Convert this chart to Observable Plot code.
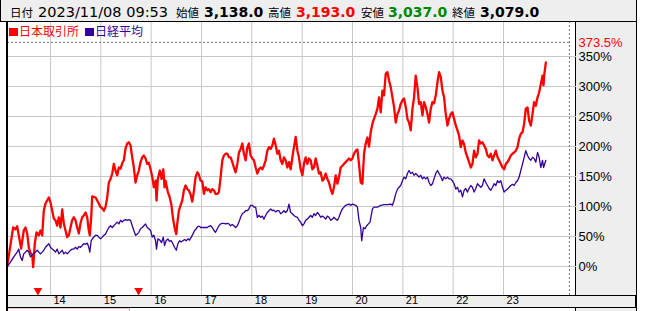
<!DOCTYPE html>
<html>
<head>
<meta charset="utf-8">
<script src="https://cdn.jsdelivr.net/npm/d3@7"></script>
<script src="https://cdn.jsdelivr.net/npm/@observablehq/plot@0.6"></script>
<style>
  html, body { margin: 0; padding: 0; background: #fff; }
  #wrap { position: relative; width: 660px; height: 311px; overflow: hidden; background: #fff; }
  .abs { position: absolute; }
</style>
</head>
<body>
<div id="wrap">
  <div class="abs" style="left:575px;top:21px;width:60px;height:300px;background:#eee;border-left:1px solid #000;border-right:1px solid #000;z-index:0"></div>
  <div class="abs" style="left:7px;top:295px;width:628px;height:11px;background:#eee;border-top:1px solid #000;border-bottom:1px solid #000;border-right:1px solid #000;z-index:0"></div>
  <div class="abs" style="left:6px;top:21px;width:2px;height:300px;background:#000;z-index:2"></div>
  <div class="abs" style="left:8px;top:308px;width:121px;height:10px;border-right:1px solid #aaa;border-top:1px solid #f6c4c4;z-index:0"></div>
  <div class="abs" style="left:0px;top:-1px;width:635px;height:21px;background:#eee;border:1px solid #000;z-index:2"></div>
  <div id="chart" class="abs" style="left:0;top:0;z-index:1"></div>
  <svg id="head" class="abs" width="660" height="40" style="left:0;top:0;z-index:3"></svg>
</div>
<script>
// ---- data ----
const quoteDate = "2023/11/08 09:53";
const quoteLabels = ["始値", "高値", "安値", "終値"];
const quoteValues = [3138.0, 3193.0, 3037.0, 3079.0];
const seriesNames = ["日本取引所", "日経平均"];
const yTicks = [0, 50, 100, 150, 200, 250, 300, 350];
const xTicks = [2014, 2015, 2016, 2017, 2018, 2019, 2020, 2021, 2022, 2023];
const xTickLabels = ["14", "15", "16", "17", "18", "19", "20", "21", "22", "23"];
const peakValue = 373.5;
const splitDates = [2013.75, 2015.75];
const xDomain = [2013.146, 2024.45];
const xEnd = 2024.31;

// 日本取引所 (% change) [decimal year, %]
const jpx = [
[2013.139,0],[2013.258,65],[2013.304,62],[2013.338,67],[2013.370,52],[2013.417,30],[2013.469,60],[2013.503,65],
[2013.537,55],[2013.569,32],[2013.602,22],[2013.636,20],[2013.656,-1],[2013.688,38],[2013.722,57],[2013.767,52],
[2013.801,60],[2013.835,52],[2013.867,93],[2013.901,105],[2013.934,110],[2013.966,115],[2014.000,107],[2014.034,93],
[2014.066,80],[2014.099,77],[2014.133,68],[2014.165,82],[2014.199,65],[2014.233,95],[2014.264,72],[2014.298,60],
[2014.332,49],[2014.364,52],[2014.398,65],[2014.431,77],[2014.463,82],[2014.497,77],[2014.531,65],[2014.563,55],
[2014.596,72],[2014.630,82],[2014.662,85],[2014.696,90],[2014.730,82],[2014.761,60],[2014.781,52],[2014.809,82],
[2014.829,117],[2014.895,115],[2014.928,110],[2014.960,105],[2014.994,99],[2015.028,97],[2015.060,93],[2015.093,99],
[2015.127,115],[2015.159,140],[2015.193,146],[2015.227,155],[2015.258,171],[2015.292,160],[2015.326,152],[2015.358,165],
[2015.392,163],[2015.425,172],[2015.457,177],[2015.491,197],[2015.525,205],[2015.557,207],[2015.590,202],[2015.624,182],
[2015.656,165],[2015.690,140],[2015.724,152],[2015.755,160],[2015.789,174],[2015.823,182],[2015.855,185],[2015.889,180],
[2015.922,171],[2015.954,173],[2015.988,162],[2016.022,149],[2016.054,132],[2016.087,143],[2016.107,110],[2016.133,146],
[2016.173,160],[2016.207,146],[2016.241,162],[2016.266,132],[2016.286,143],[2016.332,124],[2016.366,116],[2016.400,104],
[2016.431,82],[2016.465,65],[2016.499,54],[2016.519,72],[2016.551,93],[2016.584,102],[2016.618,110],[2016.650,127],
[2016.684,135],[2016.717,129],[2016.749,127],[2016.783,120],[2016.817,108],[2016.849,126],[2016.883,149],[2016.917,157],
[2016.948,153],[2016.982,143],[2017.016,142],[2017.048,121],[2017.082,132],[2017.115,127],[2017.147,129],[2017.181,124],
[2017.215,129],[2017.247,127],[2017.280,121],[2017.314,121],[2017.346,124],[2017.380,149],[2017.414,177],[2017.445,185],
[2017.479,188],[2017.513,188],[2017.545,182],[2017.579,182],[2017.612,174],[2017.644,165],[2017.678,157],[2017.712,171],
[2017.744,190],[2017.777,196],[2017.811,205],[2017.843,188],[2017.877,177],[2017.911,199],[2017.942,205],[2017.976,185],
[2018.010,180],[2018.042,177],[2018.076,165],[2018.109,155],[2018.141,162],[2018.175,165],[2018.208,162],[2018.241,168],
[2018.274,177],[2018.308,193],[2018.340,199],[2018.374,196],[2018.408,202],[2018.439,213],[2018.473,202],[2018.507,188],
[2018.539,193],[2018.573,177],[2018.606,171],[2018.638,182],[2018.672,177],[2018.706,165],[2018.738,174],[2018.771,162],
[2018.805,182],[2018.837,199],[2018.871,216],[2018.905,193],[2018.936,182],[2018.970,162],[2019.004,152],[2019.036,171],
[2019.070,182],[2019.103,171],[2019.135,180],[2019.169,177],[2019.203,162],[2019.235,165],[2019.268,180],[2019.302,168],
[2019.334,155],[2019.368,157],[2019.402,143],[2019.433,146],[2019.467,155],[2019.500,146],[2019.533,140],[2019.567,129],
[2019.600,121],[2019.632,132],[2019.666,152],[2019.700,138],[2019.732,149],[2019.765,165],[2019.799,168],[2019.831,171],
[2019.865,174],[2019.899,177],[2019.930,180],[2019.964,177],[2019.998,180],[2020.030,188],[2020.064,193],[2020.097,195],
[2020.129,171],[2020.163,140],[2020.197,138],[2020.229,188],[2020.262,205],[2020.296,215],[2020.328,200],[2020.362,224],
[2020.396,238],[2020.427,246],[2020.461,254],[2020.495,263],[2020.527,282],[2020.561,257],[2020.594,293],[2020.626,285],
[2020.660,321],[2020.694,324],[2020.726,310],[2020.759,299],[2020.793,282],[2020.825,266],[2020.859,240],[2020.893,254],
[2020.924,260],[2020.958,271],[2020.992,277],[2021.024,280],[2021.058,266],[2021.091,246],[2021.123,240],[2021.157,227],
[2021.191,263],[2021.223,282],[2021.256,318],[2021.290,299],[2021.322,271],[2021.356,274],[2021.390,252],[2021.421,274],
[2021.455,266],[2021.489,254],[2021.521,240],[2021.555,263],[2021.588,274],[2021.620,272],[2021.654,285],[2021.688,307],
[2021.720,324],[2021.753,316],[2021.787,293],[2021.819,282],[2021.853,254],[2021.887,235],[2021.918,246],[2021.952,254],
[2021.985,257],[2022.018,246],[2022.052,235],[2022.085,227],[2022.117,218],[2022.151,199],[2022.185,210],[2022.217,204],
[2022.250,190],[2022.284,182],[2022.316,174],[2022.350,165],[2022.383,171],[2022.416,193],[2022.449,182],[2022.483,188],
[2022.515,210],[2022.549,205],[2022.581,207],[2022.614,202],[2022.648,196],[2022.682,185],[2022.715,182],[2022.748,188],
[2022.781,177],[2022.813,185],[2022.847,193],[2022.881,182],[2022.913,177],[2022.946,171],[2022.980,165],[2023.012,162],
[2023.046,171],[2023.079,174],[2023.112,179],[2023.145,185],[2023.178,188],[2023.211,190],[2023.245,193],[2023.278,199],
[2023.310,213],[2023.344,221],[2023.378,224],[2023.410,238],[2023.443,263],[2023.477,265],[2023.509,243],[2023.543,235],
[2023.576,254],[2023.608,274],[2023.642,268],[2023.676,282],[2023.708,290],[2023.741,304],[2023.775,318],[2023.795,302],
[2023.807,318],[2023.841,340]
];

// 日経平均 (% change) [decimal year, %]
const nikkei = [
[2013.139,0],[2013.202,7],[2013.270,16],[2013.338,24],[2013.370,29],[2013.404,16],[2013.437,10],[2013.469,21],
[2013.503,24],[2013.537,27],[2013.569,24],[2013.602,16],[2013.636,19],[2013.668,21],[2013.702,24],[2013.736,27],
[2013.768,24],[2013.801,21],[2013.835,24],[2013.867,27],[2013.901,32],[2013.934,35],[2013.966,38],[2014.000,32],
[2014.034,29],[2014.066,27],[2014.099,24],[2014.133,29],[2014.165,21],[2014.199,24],[2014.233,27],[2014.264,21],
[2014.298,24],[2014.332,21],[2014.364,24],[2014.398,27],[2014.431,29],[2014.463,29],[2014.497,32],[2014.531,29],
[2014.563,33],[2014.596,32],[2014.630,35],[2014.662,38],[2014.696,37],[2014.730,39],[2014.761,32],[2014.781,24],
[2014.809,43],[2014.849,48],[2014.895,52],[2014.928,52],[2014.960,49],[2014.994,46],[2015.028,49],[2015.060,52],
[2015.093,54],[2015.127,60],[2015.159,65],[2015.193,68],[2015.227,65],[2015.258,68],[2015.292,71],[2015.326,74],
[2015.358,71],[2015.392,77],[2015.425,74],[2015.457,77],[2015.491,78],[2015.525,77],[2015.557,78],[2015.590,77],
[2015.624,68],[2015.656,60],[2015.690,52],[2015.724,54],[2015.755,57],[2015.789,63],[2015.823,65],[2015.855,68],
[2015.889,71],[2015.922,65],[2015.954,63],[2015.988,60],[2016.022,49],[2016.054,52],[2016.087,43],[2016.107,29],
[2016.133,46],[2016.173,44],[2016.207,40],[2016.241,49],[2016.266,35],[2016.298,43],[2016.332,46],[2016.366,42],
[2016.400,43],[2016.431,38],[2016.465,32],[2016.499,27],[2016.531,38],[2016.565,43],[2016.598,41],[2016.630,43],
[2016.664,45],[2016.697,43],[2016.730,46],[2016.763,44],[2016.797,49],[2016.829,54],[2016.863,60],[2016.897,63],
[2016.928,67],[2016.962,67],[2016.982,65],[2017.016,65],[2017.048,65],[2017.082,65],[2017.115,65],[2017.147,67],
[2017.181,68],[2017.215,65],[2017.247,60],[2017.280,57],[2017.314,63],[2017.346,68],[2017.380,71],[2017.414,72],
[2017.445,72],[2017.479,71],[2017.513,72],[2017.545,71],[2017.579,68],[2017.612,70],[2017.644,68],[2017.678,65],
[2017.712,68],[2017.744,74],[2017.777,82],[2017.811,88],[2017.843,90],[2017.877,93],[2017.911,93],[2017.942,96],
[2017.976,102],[2018.010,102],[2018.042,99],[2018.076,99],[2018.109,82],[2018.141,85],[2018.175,82],[2018.208,84],
[2018.241,79],[2018.274,85],[2018.308,90],[2018.340,93],[2018.374,96],[2018.408,93],[2018.439,94],[2018.473,91],
[2018.507,93],[2018.539,93],[2018.573,88],[2018.606,90],[2018.638,93],[2018.672,90],[2018.706,93],[2018.738,104],
[2018.771,90],[2018.805,88],[2018.837,85],[2018.871,83],[2018.905,82],[2018.936,77],[2018.970,74],[2019.004,68],
[2019.036,71],[2019.070,77],[2019.103,79],[2019.135,82],[2019.169,85],[2019.203,82],[2019.235,88],[2019.268,85],
[2019.302,90],[2019.334,87],[2019.368,82],[2019.402,84],[2019.433,82],[2019.467,79],[2019.500,84],[2019.533,82],
[2019.567,77],[2019.600,79],[2019.632,82],[2019.666,79],[2019.700,77],[2019.732,82],[2019.765,90],[2019.799,96],
[2019.831,99],[2019.865,102],[2019.899,103],[2019.930,104],[2019.964,102],[2019.998,104],[2020.030,103],[2020.064,102],
[2020.097,99],[2020.129,77],[2020.163,65],[2020.183,43],[2020.217,65],[2020.250,63],[2020.282,68],[2020.316,71],
[2020.348,74],[2020.396,96],[2020.427,99],[2020.495,99],[2020.561,102],[2020.626,103],[2020.694,103],[2020.759,104],
[2020.793,102],[2020.825,110],[2020.859,121],[2020.893,129],[2020.924,132],[2020.958,135],[2020.992,143],[2021.024,149],
[2021.058,146],[2021.091,155],[2021.123,160],[2021.157,155],[2021.191,157],[2021.223,152],[2021.256,155],[2021.290,152],
[2021.322,149],[2021.356,152],[2021.390,146],[2021.421,149],[2021.455,146],[2021.489,149],[2021.521,140],[2021.555,135],
[2021.588,138],[2021.620,146],[2021.654,155],[2021.688,160],[2021.720,155],[2021.753,150],[2021.787,143],[2021.819,149],
[2021.853,146],[2021.887,149],[2021.918,146],[2021.952,146],[2021.985,143],[2022.018,138],[2022.052,129],[2022.085,132],
[2022.117,124],[2022.151,127],[2022.185,116],[2022.217,127],[2022.250,130],[2022.284,124],[2022.316,130],[2022.350,135],
[2022.383,132],[2022.416,124],[2022.449,130],[2022.483,138],[2022.515,135],[2022.549,132],[2022.581,135],[2022.614,146],
[2022.648,140],[2022.682,135],[2022.715,130],[2022.748,127],[2022.781,132],[2022.813,138],[2022.847,135],[2022.881,143],
[2022.913,140],[2022.946,143],[2022.980,132],[2023.012,124],[2023.046,127],[2023.079,129],[2023.112,132],[2023.145,135],
[2023.178,137],[2023.211,135],[2023.245,140],[2023.278,143],[2023.310,149],[2023.344,160],[2023.378,171],[2023.410,182],
[2023.443,193],[2023.477,185],[2023.509,180],[2023.543,177],[2023.576,182],[2023.608,180],[2023.642,174],[2023.676,190],
[2023.708,182],[2023.741,165],[2023.775,177],[2023.795,165],[2023.841,177]
];

// ---- styles ----
const RED = "#ff0000", PURPLE = "#330099";
const gridColor = "#c8c8c8";

const chart = Plot.plot({
  width: 660, height: 311,
  marginLeft: 7, marginRight: 84, marginTop: 21, marginBottom: 16,
  style: { background: "transparent", overflow: "visible", fontFamily: "'Liberation Sans', Arial, sans-serif" },
  x: { domain: xDomain, axis: null },
  y: { domain: [-48.33, 408.33], axis: null },
  marks: [
    Plot.ruleX(xTicks, { stroke: gridColor, strokeWidth: 1 }),
    Plot.ruleY(yTicks, { stroke: gridColor, strokeWidth: 1 }),
    Plot.ruleY([peakValue], { x1: xDomain[0], x2: xEnd, stroke: "#777", strokeDasharray: "2,2" }),
    Plot.ruleX([xEnd], { stroke: "#777", strokeDasharray: "2,2" }),
    Plot.line(jpx, { x: d => d[0], y: d => d[1], stroke: RED, strokeWidth: 2.3, strokeLinejoin: "round" }),
    Plot.line(nikkei, { x: d => d[0], y: d => d[1], stroke: PURPLE, strokeWidth: 1.3, strokeLinejoin: "round" }),
    Plot.dot(splitDates, { x: d => d, frameAnchor: "bottom", dy: -5, symbol: "triangle", rotate: 180, r: 3.2, fill: RED, stroke: "none" }),
    Plot.axisY(yTicks, { anchor: "right", tickSize: 0, tickPadding: 2, tickFormat: d => d + "%", fontSize: 13, fill: "#000", label: null }),
    Plot.axisX(xTicks, { anchor: "bottom", tickSize: 0, tickPadding: 1, tickFormat: d => xTickLabels[xTicks.indexOf(d)], textAnchor: "start", dx: 3, fontSize: 11, fill: "#000", label: null }),
    Plot.text([peakValue], { y: d => d, frameAnchor: "right", text: d => d3.format(".1f")(d) + "%", textAnchor: "start", dx: 2, fill: RED, fontSize: 13 })
  ]
});
document.getElementById("chart").appendChild(chart);

// ---- header & legend (real text) ----
const svg = d3.select("#head");
const cjk = "'Noto Sans CJK JP', sans-serif";
const latin = "'DejaVu Sans', sans-serif";
const fmt = d3.format(",.1f");
const quoteColors = ["#000", RED, "#008800", "#000"];
const labelX = [176, 268, 361, 452];
const valueX = [204, 296, 388, 480];
const headBase = 17;
svg.append("text").attr("x", 10).attr("y", headBase).attr("font-family", cjk).attr("font-size", 11.5).text("日付");
svg.append("text").attr("x", 38).attr("y", headBase).attr("font-family", latin).attr("font-size", 14.5).text(quoteDate);
quoteLabels.forEach((l, i) => {
  svg.append("text").attr("x", labelX[i]).attr("y", headBase).attr("font-family", cjk).attr("font-size", 11.5).text(l);
  svg.append("text").attr("x", valueX[i]).attr("y", headBase).attr("font-family", latin).attr("font-weight", "bold")
    .attr("font-size", 14).attr("fill", quoteColors[i]).text(fmt(quoteValues[i]));
});
const legendColors = [RED, PURPLE];
const legendX = [9, 85];
seriesNames.forEach((n, i) => {
  svg.append("rect").attr("x", legendX[i]).attr("y", 28).attr("width", 9).attr("height", 8).attr("fill", legendColors[i]);
  svg.append("text").attr("x", legendX[i] + 10).attr("y", 35.5).attr("font-family", cjk).attr("font-size", 12)
    .attr("fill", legendColors[i]).text(n);
});
</script>
</body>
</html>
